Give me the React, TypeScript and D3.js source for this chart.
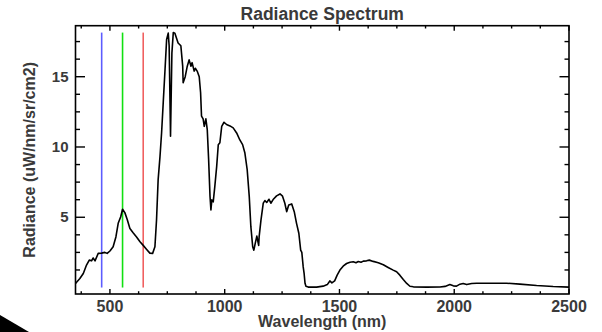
import * as d3 from "d3";
import { useEffect, useRef } from "react";

// spectrum (nm, uW/nm/sr/cm2)
const wavelength = [
    350, 369, 384, 398, 410, 420, 427, 435, 449, 464, 478, 488, 500, 514, 526, 536, 547, 555, 565, 575,
    587, 601, 616, 631, 645, 660, 674, 686, 696, 703, 710, 718, 725, 732, 740, 747, 754, 758, 764, 770,
    776, 783, 797, 809, 817, 819, 828, 837, 845, 853, 858, 867, 872, 880, 889, 895, 899, 906, 911, 918,
    924, 930, 936, 940, 944, 950, 957, 965, 972, 979, 987, 997, 1008, 1023, 1037, 1052, 1066, 1078, 1088, 1098,
    1107, 1114, 1122, 1127, 1133, 1140, 1148, 1150, 1158, 1168, 1175, 1183, 1193, 1201, 1211, 1226, 1241, 1252, 1262, 1270,
    1279, 1292, 1303, 1313, 1323, 1331, 1336, 1342, 1346, 1350, 1354, 1364, 1400, 1429, 1447, 1458, 1467, 1479, 1490, 1502,
    1516, 1531, 1546, 1560, 1572, 1582, 1594, 1604, 1618, 1630, 1647, 1669, 1691, 1712, 1734, 1749, 1763, 1778, 1793, 1807,
    1822, 1880, 1938, 1960, 1981, 1996, 2010, 2025, 2039, 2054, 2076, 2098, 2155, 2228, 2286, 2359, 2431, 2500,
];

const radiance = [
    0.29, 0.64, 1.0, 1.6, 1.95, 1.9, 2.1, 1.9, 2.43, 2.45, 2.5, 2.43, 2.6, 2.9, 3.6, 4.57, 5.04, 5.57, 5.33, 4.86,
    4.2, 3.9, 3.6, 3.26, 3.0, 2.71, 2.45, 2.43, 2.9, 4.8, 7.66, 9.3, 11.0, 13.1, 15.5, 17.66, 18.1, 17.2, 10.76, 16.7,
    18.14, 18.1, 17.4, 17.2, 15.75, 14.57, 15.0, 15.75, 16.2, 15.75, 16.0, 15.4, 15.6, 15.4, 15.0, 13.86, 12.2, 12.0, 11.47, 12.0,
    11.24, 9.1, 6.5, 5.52, 6.24, 6.1, 7.2, 8.6, 10.16, 10.3, 11.47, 11.76, 11.6, 11.5, 11.36, 11.0, 10.5, 10.17, 9.57, 8.38,
    6.47, 4.33, 2.9, 2.66, 3.14, 3.66, 3.0, 3.6, 4.8, 6.0, 6.19, 6.05, 6.28, 6.0, 6.26, 6.52, 6.66, 6.5, 6.0, 5.4,
    5.88, 5.95, 5.4, 4.57, 3.86, 2.66, 2.5, 1.47, 1.0, 0.3, 0.09, 0.03, 0.03, 0.1, 0.21, 0.47, 0.33, 0.47, 0.88, 1.24,
    1.52, 1.71, 1.8, 1.83, 1.76, 1.85, 1.8, 1.88, 1.9, 1.95, 1.86, 1.76, 1.62, 1.43, 1.24, 1.12, 0.88, 0.57, 0.29, 0.09,
    0.05, 0.03, 0.04, 0.08, 0.21, 0.12, 0.1, 0.24, 0.29, 0.21, 0.29, 0.31, 0.31, 0.31, 0.24, 0.14, 0.07, 0.03,
];

// RGB band markers
const bandWavelengths = [464, 555, 645];
const bandColors = ["#5c5cff", "#10e010", "#f06060"];

const xTicks = [500, 1000, 1500, 2000, 2500];
const yTicks = [5, 10, 15];

const FONT = "'Liberation Sans', Arial, Helvetica, sans-serif";
const TEXT = "#3a3a3a";

const App = () => {
    const ref = useRef<SVGSVGElement>(null);

    useEffect(() => {
        if (!ref.current) return;
        const svg = d3.select(ref.current);
        svg.selectAll("*").remove();

        const left = 75.5, right = 569, top = 25.7, bottom = 294;

        const x = d3.scaleLinear().domain([350, 2500]).range([left, right]);
        const y = d3.scaleLinear().domain([-0.46, 18.63]).range([bottom, top]);

        const data = wavelength.map((w, i) => ({ w, r: radiance[i] }));
        const rMax = d3.max(radiance) || 0;

        // band lines from 0 up to the spectrum max
        svg.selectAll(".band")
            .data(bandWavelengths)
            .enter()
            .append("line")
            .attr("x1", (d) => x(d))
            .attr("x2", (d) => x(d))
            .attr("y1", y(0))
            .attr("y2", y(rMax))
            .attr("stroke", (_d, i) => bandColors[i])
            .attr("stroke-width", 1.6);

        const line = d3.line<{ w: number; r: number }>()
            .x((d) => x(d.w))
            .y((d) => y(d.r));

        svg.append("path")
            .datum(data)
            .attr("d", line)
            .attr("fill", "none")
            .attr("stroke", "#000")
            .attr("stroke-width", 1.6)
            .attr("stroke-linejoin", "round");

        // frame
        svg.append("rect")
            .attr("x", left)
            .attr("y", top)
            .attr("width", right - left)
            .attr("height", bottom - top)
            .attr("fill", "none")
            .attr("stroke", "#000")
            .attr("stroke-width", 1.6);

        const g = svg.append("g").attr("stroke", "#000").attr("stroke-width", 1.4);

        // x ticks, bottom + top, pointing inward
        const xMinor = d3.range(375, 2500, 125).filter((v) => !xTicks.includes(v));
        for (const [vals, len] of [[xTicks, 5], [xMinor, 2.8]] as [number[], number][]) {
            for (const v of vals) {
                g.append("line").attr("x1", x(v)).attr("x2", x(v)).attr("y1", bottom).attr("y2", bottom - len);
                g.append("line").attr("x1", x(v)).attr("x2", x(v)).attr("y1", top).attr("y2", top + len);
            }
        }

        // y ticks, left + right
        const yMinor = d3.range(1.25, 18.6, 1.25).filter((v) => !yTicks.includes(v));
        for (const [vals, len] of [[yTicks, 9.5], [yMinor, 4.5]] as [number[], number][]) {
            for (const v of vals) {
                g.append("line").attr("x1", left).attr("x2", left + len).attr("y1", y(v)).attr("y2", y(v));
                g.append("line").attr("x1", right).attr("x2", right - len).attr("y1", y(v)).attr("y2", y(v));
            }
        }

        svg.selectAll(".xlab")
            .data(xTicks)
            .enter()
            .append("text")
            .attr("x", (d) => x(d))
            .attr("y", 311.5)
            .attr("text-anchor", "middle")
            .style("font-family", FONT)
            .style("font-weight", "bold")
            .style("font-size", "16px")
            .style("fill", TEXT)
            .text((d) => d);

        svg.selectAll(".ylab")
            .data(yTicks)
            .enter()
            .append("text")
            .attr("x", 68.5)
            .attr("y", (d) => y(d) + 5)
            .attr("text-anchor", "end")
            .style("font-family", FONT)
            .style("font-weight", "bold")
            .style("font-size", "15px")
            .style("fill", TEXT)
            .text((d) => d);

        svg.append("text")
            .attr("x", (left + right) / 2)
            .attr("y", 20)
            .attr("text-anchor", "middle")
            .style("font-family", FONT)
            .style("font-weight", "bold")
            .style("font-size", "17.5px")
            .style("fill", TEXT)
            .text("Radiance Spectrum");

        svg.append("text")
            .attr("x", (left + right) / 2)
            .attr("y", 327)
            .attr("text-anchor", "middle")
            .style("font-family", FONT)
            .style("font-weight", "bold")
            .style("font-size", "16px")
            .style("fill", TEXT)
            .text("Wavelength (nm)");

        svg.append("text")
            .attr("transform", `translate(35,${(top + bottom) / 2}) rotate(-90)`)
            .attr("text-anchor", "middle")
            .style("font-family", FONT)
            .style("font-weight", "bold")
            .style("font-size", "16px")
            .style("fill", TEXT)
            .text("Radiance (uW/nm/sr/cm2)");

        // dark wedge in the lower-left corner of the source image
        svg.append("path")
            .attr("d", "M0,315L29,332L0,332Z")
            .attr("fill", "#000");
    }, []);

    return (
        <svg
            ref={ref}
            width={602}
            height={332}
            style={{ position: "absolute", left: 0, top: 0, background: "#fff" }}
        />
    );
};

export default App;
